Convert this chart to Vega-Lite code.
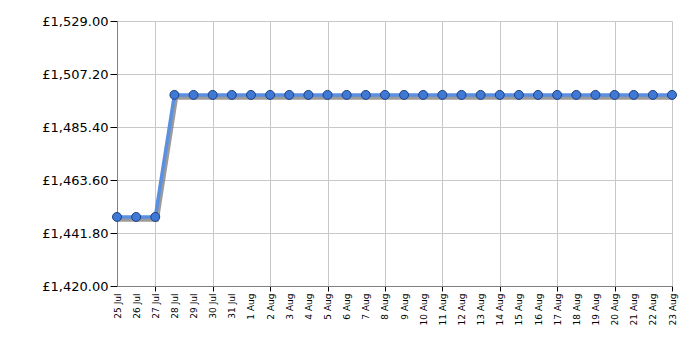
{
  "$schema": "https://vega.github.io/schema/vega-lite/v6.json",
  "width": 555,
  "height": 265,
  "autosize": "none",
  "padding": {"left": 117, "top": 21, "right": 28, "bottom": 64},
  "background": "white",
  "config": {"view": {"stroke": null}, "font": "DejaVu Sans"},
  "data": {"values": [
    {"date": "2023-07-25", "price": 1448.4},
    {"date": "2023-07-26", "price": 1448.4},
    {"date": "2023-07-27", "price": 1448.4},
    {"date": "2023-07-28", "price": 1498.6},
    {"date": "2023-07-29", "price": 1498.6},
    {"date": "2023-07-30", "price": 1498.6},
    {"date": "2023-07-31", "price": 1498.6},
    {"date": "2023-08-01", "price": 1498.6},
    {"date": "2023-08-02", "price": 1498.6},
    {"date": "2023-08-03", "price": 1498.6},
    {"date": "2023-08-04", "price": 1498.6},
    {"date": "2023-08-05", "price": 1498.6},
    {"date": "2023-08-06", "price": 1498.6},
    {"date": "2023-08-07", "price": 1498.6},
    {"date": "2023-08-08", "price": 1498.6},
    {"date": "2023-08-09", "price": 1498.6},
    {"date": "2023-08-10", "price": 1498.6},
    {"date": "2023-08-11", "price": 1498.6},
    {"date": "2023-08-12", "price": 1498.6},
    {"date": "2023-08-13", "price": 1498.6},
    {"date": "2023-08-14", "price": 1498.6},
    {"date": "2023-08-15", "price": 1498.6},
    {"date": "2023-08-16", "price": 1498.6},
    {"date": "2023-08-17", "price": 1498.6},
    {"date": "2023-08-18", "price": 1498.6},
    {"date": "2023-08-19", "price": 1498.6},
    {"date": "2023-08-20", "price": 1498.6},
    {"date": "2023-08-21", "price": 1498.6},
    {"date": "2023-08-22", "price": 1498.6},
    {"date": "2023-08-23", "price": 1498.6}
  ]},
  "encoding": {
    "x": {"field": "date", "type": "temporal",
      "scale": {"domain": [{"year": 2023, "month": 7, "date": 25}, {"year": 2023, "month": 8, "date": 23}]},
      "axis": {"orient": "bottom", "domain": true, "domainColor": "#808080",
        "grid": true, "gridColor": "#c8c8c8",
        "gridOpacity": {"condition": {"test": "dayofyear(datum.value) % 3 == 1", "value": 1}, "value": 0},
        "ticks": true, "tickColor": "#000000", "tickSize": 5,
        "tickOpacity": {"condition": {"test": "dayofyear(datum.value) % 3 == 1", "value": 1}, "value": 0},
        "values": [
          {"year": 2023, "month": 7, "date": 25}, {"year": 2023, "month": 7, "date": 26}, {"year": 2023, "month": 7, "date": 27},
          {"year": 2023, "month": 7, "date": 28}, {"year": 2023, "month": 7, "date": 29}, {"year": 2023, "month": 7, "date": 30},
          {"year": 2023, "month": 7, "date": 31}, {"year": 2023, "month": 8, "date": 1}, {"year": 2023, "month": 8, "date": 2},
          {"year": 2023, "month": 8, "date": 3}, {"year": 2023, "month": 8, "date": 4}, {"year": 2023, "month": 8, "date": 5},
          {"year": 2023, "month": 8, "date": 6}, {"year": 2023, "month": 8, "date": 7}, {"year": 2023, "month": 8, "date": 8},
          {"year": 2023, "month": 8, "date": 9}, {"year": 2023, "month": 8, "date": 10}, {"year": 2023, "month": 8, "date": 11},
          {"year": 2023, "month": 8, "date": 12}, {"year": 2023, "month": 8, "date": 13}, {"year": 2023, "month": 8, "date": 14},
          {"year": 2023, "month": 8, "date": 15}, {"year": 2023, "month": 8, "date": 16}, {"year": 2023, "month": 8, "date": 17},
          {"year": 2023, "month": 8, "date": 18}, {"year": 2023, "month": 8, "date": 19}, {"year": 2023, "month": 8, "date": 20},
          {"year": 2023, "month": 8, "date": 21}, {"year": 2023, "month": 8, "date": 22}, {"year": 2023, "month": 8, "date": 23}],
        "format": "%-d %b", "labelAngle": -90, "labelAlign": "right", "labelBaseline": "middle",
        "labelFontSize": 9, "labelColor": "#000000", "labelPadding": 2, "labelOverlap": false, "labelFlush": false,
        "labelBound": false, "title": null}},
    "y": {"field": "price", "type": "quantitative", "scale": {"domain": [1420, 1529], "nice": false, "zero": false},
      "axis": {"orient": "left", "grid": true, "gridColor": "#c8c8c8", "values": [1420, 1441.8, 1463.6, 1485.4, 1507.2, 1529],
        "labelExpr": "'£' + format(datum.value, ',.2f')", "labelFontSize": 13, "labelColor": "#000000",
        "tickColor": "#000000", "tickSize": 7, "domainColor": "#808080", "labelPadding": 2, "title": null}}
  },
  "layer": [
    {
      "mark": {"type": "line", "color": "#7a7a7a", "strokeWidth": 4.5, "opacity": 0.75, "xOffset": 1.5, "yOffset": 2.5},
      "encoding": {}
    },
    {
      "mark": {"type": "line", "color": "#5a8fe2", "strokeWidth": 3.5},
      "encoding": {}
    },
    {
      "mark": {"type": "point", "filled": true, "shape": "circle", "size": 80, "color": "#3f79d6",
        "stroke": "#1e3f80", "strokeWidth": 1, "opacity": 1},
      "encoding": {}
    }
  ]
}
